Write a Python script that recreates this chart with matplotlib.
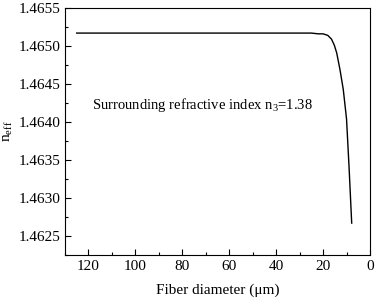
import matplotlib
matplotlib.use("Agg")
import matplotlib.pyplot as plt
from matplotlib.ticker import MultipleLocator, FormatStrFormatter

# fiber diameter (um) and effective index
diameter = [125, 100, 80, 60, 40, 30, 25, 22, 20, 18, 16.4, 15.2, 14.2, 12.8, 11.4,
            10.0, 8.9, 7.8]
n_eff = [1.46517, 1.46517, 1.46517, 1.46517, 1.46517, 1.46517, 1.46517, 1.46516,
         1.46516, 1.46514, 1.46509, 1.46501, 1.46491, 1.46469, 1.46443,
         1.46404, 1.46339, 1.46267]

plt.rcParams.update({
    "font.family": ["Liberation Serif", "DejaVu Serif"],
    "mathtext.fontset": "custom",
    "mathtext.rm": "Liberation Serif",
    "mathtext.it": "Liberation Serif",
    "font.size": 10.5,
})

fig = plt.figure(figsize=(3.76, 3.04), dpi=100)
ax = fig.add_axes([65 / 376, 1 - 255 / 304, (370 - 65) / 376, (255 - 8) / 304])

ax.plot(diameter, n_eff, color="black", lw=1.0)

ax.set_xlim(130, 0)
ax.set_ylim(1.46225, 1.4655)
ax.xaxis.set_major_locator(MultipleLocator(20))
ax.xaxis.set_minor_locator(MultipleLocator(10))
ax.yaxis.set_major_locator(MultipleLocator(0.0005))
ax.yaxis.set_minor_locator(MultipleLocator(0.00025))
ax.yaxis.set_major_formatter(FormatStrFormatter("%.4f"))
ax.tick_params(which="both", direction="in", top=False, right=False)
ax.tick_params(which="major", length=4, width=0.8, labelsize=11)
ax.tick_params(which="minor", length=2.5, width=0.8)

ax.set_xlabel("Fiber diameter (\u03bcm)", fontsize=11, labelpad=8)
ax.set_ylabel(r"n$_{\mathrm{eff}}$", fontsize=11, labelpad=2)

ax.text(118.6, 1.46422, r"Surrounding refractive index n$_3$=1.38",
        fontsize=10.5, ha="left", va="center")

fig.savefig("out.png", dpi=100)
